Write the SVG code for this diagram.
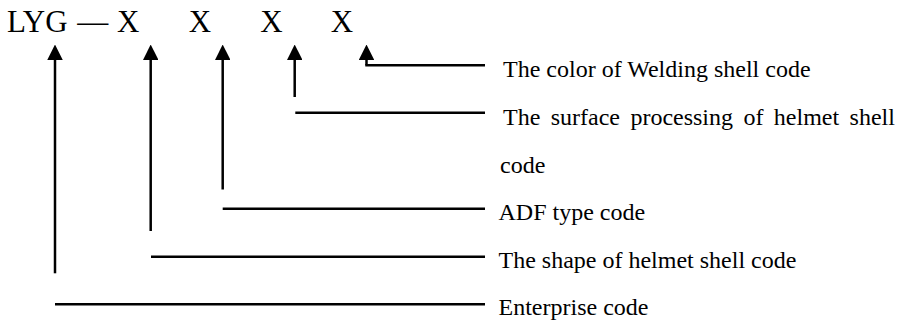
<svg xmlns="http://www.w3.org/2000/svg" width="906" height="321" viewBox="0 0 906 321">
<style>
.t{font-family:"Liberation Serif","Times New Roman",serif;fill:#000}
.code{font-size:31px}
.lbl{font-size:24px}
.ln{stroke:#000;stroke-width:2.5;fill:none}
</style>
<defs>
<marker id="ah" viewBox="0 0 15.5 15.5" markerWidth="15.5" markerHeight="15.5" refX="0" refY="7.75" orient="auto" markerUnits="userSpaceOnUse">
<path d="M0,0 L15.5,7.75 L0,15.5 Z" fill="#000"/>
</marker>
</defs>
<rect width="906" height="321" fill="#fff"/>
<g id="code">
<text class="t code" x="7" y="32">LYG</text>
<text class="t code" x="92.7" y="32" text-anchor="middle">—</text>
<text class="t code" x="128.3" y="32" text-anchor="middle">X</text>
<text class="t code" x="200" y="32" text-anchor="middle">X</text>
<text class="t code" x="271.5" y="32" text-anchor="middle">X</text>
<text class="t code" x="342" y="32" text-anchor="middle">X</text>
</g>
<g id="connectors">
<path class="ln" d="M366.5,65.3 V60" marker-end="url(#ah)"/>
<path class="ln" d="M365.3,65.3 H485"/>
<path class="ln" d="M294.7,97 V60" marker-end="url(#ah)"/>
<path class="ln" d="M295.3,112.7 H485"/>
<path class="ln" d="M222.7,189.5 V60" marker-end="url(#ah)"/>
<path class="ln" d="M222.7,208.7 H485"/>
<path class="ln" d="M150.7,231 V60" marker-end="url(#ah)"/>
<path class="ln" d="M151,256.7 H485"/>
<path class="ln" d="M55,273.3 V60" marker-end="url(#ah)"/>
<path class="ln" d="M55,304.3 H485"/>
</g>
<g id="label-color">
<text class="t lbl" x="503" y="76.7">The color of Welding shell code</text>
</g>
<g id="label-surface">
<text class="t lbl" x="503" y="125" word-spacing="4.4">The surface processing of helmet shell</text>
<text class="t lbl" x="500" y="172.7">code</text>
</g>
<g id="label-adf">
<text class="t lbl" x="498.5" y="220">ADF type code</text>
</g>
<g id="label-shape">
<text class="t lbl" x="498.5" y="268.3">The shape of helmet shell code</text>
</g>
<g id="label-enterprise">
<text class="t lbl" x="498.5" y="315">Enterprise code</text>
</g>
</svg>
